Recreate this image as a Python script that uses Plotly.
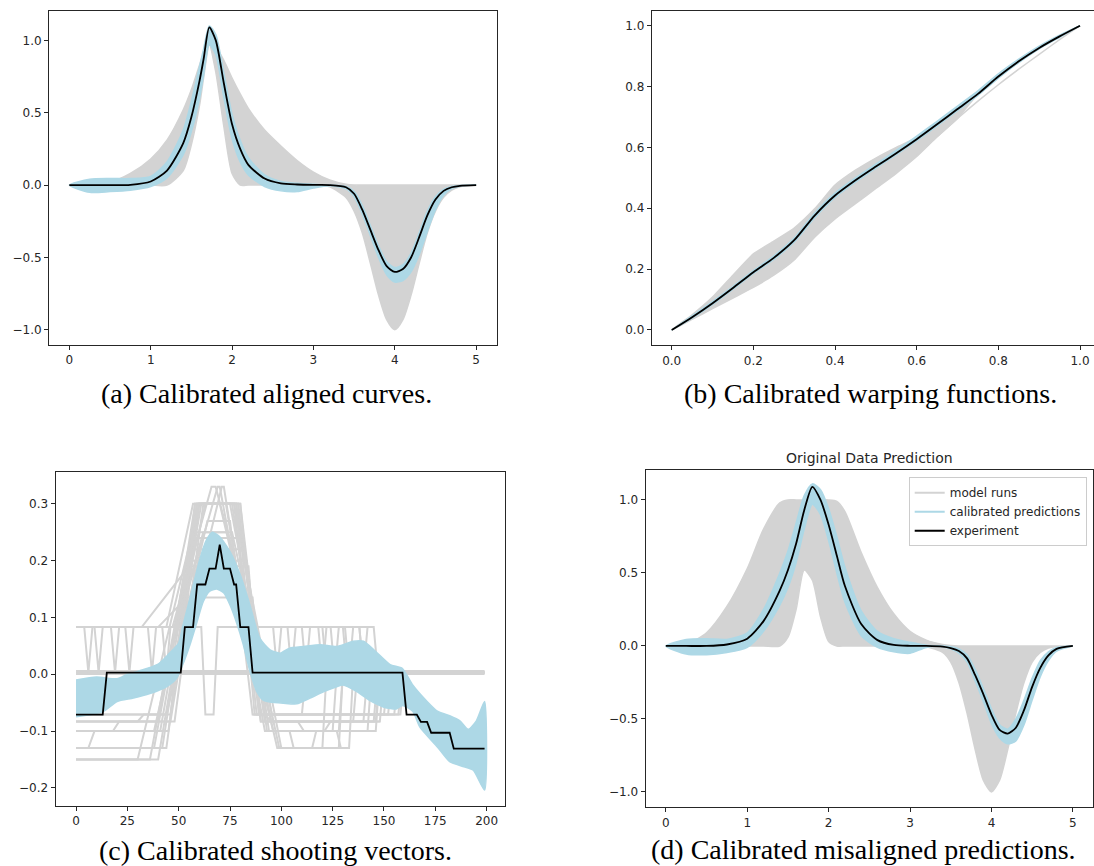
import plotly.graph_objects as go

GRAY = "#d3d3d3"
BLUE = "#add8e6"
BLACK = "#000000"
FRAME = "#262626"

# ---------------- (a) aligned curves ----------------
xa = [0, 0.25, 0.5, 0.75, 1.0, 1.2, 1.4, 1.5, 1.6, 1.65, 1.72, 1.8, 1.9, 2.0, 2.1, 2.2, 2.4, 2.6,
      2.8, 3.0, 3.2, 3.4, 3.5, 3.6, 3.7, 3.8, 3.9, 4.0, 4.1, 4.2, 4.3, 4.4, 4.5, 4.6, 4.7, 4.8, 5.0]
exp_a = [0, 0, 0, 0.002, 0.025, 0.10, 0.29, 0.47, 0.72, 0.87, 1.09, 1.0, 0.70, 0.42, 0.25, 0.14,
         0.045, 0.012, 0.004, 0.001, 0.0, -0.015, -0.06, -0.17, -0.31, -0.45, -0.56, -0.60, -0.58,
         -0.50, -0.36, -0.21, -0.10, -0.04, -0.015, -0.005, 0]
cal_a_hi = [0, 0.04, 0.045, 0.045, 0.06, 0.16, 0.38, 0.58, 0.82, 0.94, 1.10, 1.04, 0.77, 0.49, 0.31,
            0.19, 0.07, 0.025, 0.012, 0.005, 0.0, -0.01, -0.045, -0.14, -0.28, -0.42, -0.53, -0.57,
            -0.55, -0.47, -0.33, -0.18, -0.08, -0.03, -0.01, -0.003, 0]
cal_a_lo = [0, -0.05, -0.045, -0.035, -0.01, 0.05, 0.21, 0.37, 0.60, 0.76, 0.97, 0.90, 0.60, 0.32,
            0.16, 0.07, -0.01, -0.04, -0.045, -0.02, -0.005, -0.025, -0.08, -0.20, -0.35, -0.50,
            -0.62, -0.67, -0.66, -0.60, -0.48, -0.32, -0.17, -0.07, -0.025, -0.008, 0]
runs_a_hi = [0, 0.0, 0.02, 0.08, 0.18, 0.31, 0.52, 0.66, 0.83, 0.91, 1.0, 0.96, 0.86, 0.74, 0.63,
             0.53, 0.38, 0.27, 0.17, 0.09, 0.035, 0.005, 0, 0, 0, 0, 0, 0, 0, 0, 0, 0, 0, 0, 0, 0, 0]
runs_a_lo = [0, 0, 0, 0, 0, 0, 0.10, 0.28, 0.55, 0.74, 0.97, 0.78, 0.40, 0.08, 0.0, 0, 0, 0, 0, 0,
             -0.012, -0.085, -0.18, -0.33, -0.54, -0.76, -0.93, -1.0, -0.93, -0.76, -0.54, -0.33,
             -0.18, -0.085, -0.035, -0.012, 0]

# ---------------- (b) warping functions ----------------
xb = [0, 0.05, 0.1, 0.15, 0.2, 0.25, 0.3, 0.35, 0.4, 0.45, 0.5, 0.55, 0.6, 0.65, 0.7, 0.75, 0.8,
      0.85, 0.9, 0.95, 1.0]
exp_b = [0, 0.042, 0.088, 0.138, 0.19, 0.237, 0.295, 0.376, 0.442, 0.492, 0.537, 0.581, 0.627,
         0.676, 0.726, 0.776, 0.833, 0.883, 0.927, 0.965, 1.0]
cal_b_hi = [0, 0.046, 0.093, 0.143, 0.195, 0.243, 0.302, 0.384, 0.45, 0.5, 0.545, 0.59, 0.637,
            0.686, 0.736, 0.786, 0.842, 0.89, 0.933, 0.969, 1.0]
cal_b_lo = [0, 0.039, 0.084, 0.134, 0.186, 0.232, 0.289, 0.369, 0.436, 0.486, 0.532, 0.576, 0.622,
            0.671, 0.721, 0.771, 0.828, 0.879, 0.924, 0.962, 1.0]
runs_b_hi = [0, 0.05, 0.108, 0.18, 0.25, 0.292, 0.335, 0.398, 0.476, 0.525, 0.565, 0.600, 0.632,
             0.677, 0.726, 0.776, 0.833, 0.883, 0.927, 0.965, 1.0]
runs_b_lo = [0, 0.035, 0.07, 0.105, 0.14, 0.18, 0.23, 0.305, 0.365, 0.415, 0.465, 0.515, 0.57,
             0.635, 0.695, 0.776, 0.833, 0.883, 0.927, 0.965, 1.0]
run_b_out_x = [0.6, 0.65, 0.7, 0.75, 0.8, 0.85, 0.9, 0.95, 1.0]
run_b_out_y = [0.575, 0.635, 0.695, 0.752, 0.806, 0.857, 0.906, 0.954, 1.0]

# ---------------- (c) shooting vectors ----------------
exp_c_x = [0, 13, 15, 51, 53, 57, 59, 63, 65, 68, 70, 72, 75, 77, 78, 80, 84, 86, 159, 161, 166,
           168, 171, 173, 182, 184, 199]
exp_c_y = [-0.071, -0.071, 0.003, 0.003, 0.083, 0.083, 0.158, 0.158, 0.186, 0.186, 0.228, 0.186,
           0.186, 0.158, 0.158, 0.083, 0.083, 0.003, 0.003, -0.071, -0.071, -0.084, -0.084,
           -0.103, -0.103, -0.131, -0.131]
cal_c_hi_x = [0, 10, 20, 25, 30, 40, 45, 50, 52, 55.5, 60.4, 63.6, 66.4, 70, 75, 80, 84.7, 89.6,
              94.5, 99.4, 104, 111, 119, 127, 135, 140, 146, 153, 159, 164, 171, 176, 182, 187,
              191, 195, 199]
cal_c_hi_y = [-0.01, -0.005, -0.008, 0.0, 0.005, 0.018, 0.035, 0.055, 0.085, 0.134, 0.204, 0.237,
              0.25, 0.242, 0.216, 0.175, 0.122, 0.063, 0.043, 0.037, 0.046, 0.049, 0.052, 0.049,
              0.058, 0.058, 0.04, 0.017, 0.01, -0.019, -0.048, -0.065, -0.073, -0.082, -0.097,
              -0.082, -0.048]
cal_c_lo_x = [0, 13, 20, 28, 36, 44, 49, 52, 55.5, 59, 62, 65, 68.5, 72, 75, 78, 81.5, 84.7, 88,
              91, 94.5, 101, 107.5, 114, 120.5, 127, 130, 137, 143, 150, 156, 159, 164, 167.5,
              176, 182, 189, 193.5, 199]
cal_c_lo_y = [-0.075, -0.066, -0.048, -0.042, -0.034, -0.022, -0.007, 0.017, 0.052, 0.093, 0.128,
              0.146, 0.15, 0.143, 0.122, 0.093, 0.052, 0.005, -0.03, -0.045, -0.049, -0.051,
              -0.052, -0.042, -0.031, -0.022, -0.019, -0.031, -0.046, -0.058, -0.061, -0.055,
              -0.065, -0.093, -0.128, -0.154, -0.163, -0.169, -0.204]
# model runs: left level, start of rise, peak level, peak start/end, right level, end of fall, end of right level
run_left = [0.083, 0.083, 0.003, -0.071, -0.083, -0.10, -0.13, -0.15, 0.083, -0.083, -0.13, 0.003,
            -0.10, 0.083, -0.071, -0.15, 0.083, 0.003, -0.083, -0.13, -0.10, 0.083, -0.15, 0.003]
run_rise = [50, 47, 50, 44, 48, 41, 44, 40, 32, 46, 42, 47, 38, 40, 46, 36, 44, 43, 40, 38, 45,
            49, 30, 45]
run_peak = [0.30, 0.33, 0.30, 0.33, 0.30, 0.25, 0.30, 0.30, 0.19, 0.16, 0.22, 0.27, 0.30, 0.135,
            0.30, 0.24, 0.30, 0.33, 0.30, 0.30, 0.20, 0.25, 0.30, 0.30]
run_top0 = [59, 66, 60, 71, 62, 58, 60, 61, 55, 57, 57, 64, 63, 54, 58, 56, 57, 69, 59, 60, 56,
            62, 60, 58]
run_top1 = [79, 68, 77, 72, 78, 74, 80, 77, 84, 81, 82, 75, 73, 86, 76, 80, 78, 70, 79, 75, 83,
            76, 70, 80]
run_right = [0.083, 0.083, -0.071, -0.083, -0.10, -0.13, -0.071, -0.083, 0.003, 0.083, -0.10,
             -0.071, -0.071, 0.003, -0.083, -0.13, -0.071, -0.10, 0.083, -0.083, -0.071, -0.13,
             -0.10, -0.083]
run_fall = [84, 86, 88, 90, 94, 98, 92, 96, 88, 88, 93, 86, 90, 89, 92, 100, 87, 92, 86, 95, 89,
            99, 96, 90]
run_end = [145, 120, 157, 148, 146, 133, 150, 140, 199, 130, 125, 155, 110, 199, 145, 128, 152,
           142, 138, 135, 158, 120, 128, 146]
zig_x = [[0, 9, 11, 13, 24, 26, 28, 35, 37, 39, 50],
         [86, 96, 98, 100, 110, 112, 114, 124, 126, 128, 138, 140, 142, 145],
         [0, 6, 9, 18, 21, 30, 33, 44],
         [50, 56, 61, 63, 67, 69, 74, 80],
         [98, 104, 106, 115, 117, 127, 129, 133],
         [0, 4, 6, 8, 17, 19, 21, 42, 44, 46, 50],
         [88, 103, 105, 107, 118, 120, 122, 131, 133, 135, 145],
         [86, 92, 95, 108, 111, 121, 124, 148]]
zig_y = [[0.083, 0.083, 0.003, 0.083, 0.083, 0.003, 0.083, 0.083, 0.003, 0.083, 0.083],
         [0.083, 0.083, 0.003, 0.083, 0.083, 0.003, 0.083, 0.083, 0.003, 0.083, 0.083, 0.003,
          0.083, 0.083],
         [-0.13, -0.13, -0.10, -0.10, -0.083, -0.083, -0.071, -0.071],
         [0.083, 0.083, 0.083, -0.071, -0.071, 0.083, 0.083, 0.083],
         [-0.10, -0.10, -0.13, -0.13, -0.10, -0.10, -0.13, -0.13],
         [0.083, 0.083, 0.003, 0.083, 0.083, 0.003, 0.083, 0.083, 0.003, 0.083, 0.083],
         [0.083, 0.083, 0.003, 0.083, 0.083, 0.003, 0.083, 0.083, 0.003, 0.083, 0.083],
         [-0.071, -0.071, -0.083, -0.083, -0.10, -0.10, -0.083, -0.083]]
zero_x = [0, 199]
zero_y = [0.003, 0.003]

# ---------------- (d) misaligned predictions ----------------
xd = [0, 0.25, 0.5, 0.75, 1.0, 1.2, 1.4, 1.5, 1.6, 1.7, 1.8, 1.9, 2.0, 2.1, 2.2, 2.4, 2.6, 2.8, 3.0,
      3.2, 3.4, 3.5, 3.6, 3.7, 3.8, 3.9, 4.0, 4.1, 4.2, 4.3, 4.4, 4.5, 4.6, 4.7, 4.8, 5.0]
exp_d = [0, 0, 0, 0.01, 0.05, 0.17, 0.38, 0.52, 0.70, 0.93, 1.09, 1.0, 0.83, 0.62, 0.41, 0.15, 0.04,
         0.007, 0.001, 0, -0.005, -0.015, -0.035, -0.085, -0.2, -0.33, -0.47, -0.575, -0.60, -0.56,
         -0.44, -0.28, -0.15, -0.065, -0.02, 0]
cal_d_hi = [0, 0.045, 0.05, 0.045, 0.09, 0.25, 0.50, 0.65, 0.84, 1.03, 1.11, 1.07, 0.94, 0.75, 0.54,
            0.24, 0.10, 0.05, 0.025, 0.005, 0, -0.005, -0.02, -0.06, -0.16, -0.29, -0.43, -0.54,
            -0.57, -0.50, -0.37, -0.22, -0.10, -0.04, -0.01, 0]
cal_d_lo = [0, -0.055, -0.06, -0.045, -0.01, 0.10, 0.28, 0.40, 0.57, 0.80, 0.97, 0.90, 0.72, 0.50,
            0.30, 0.07, -0.01, -0.04, -0.05, -0.01, -0.005, -0.02, -0.05, -0.11, -0.24, -0.38,
            -0.53, -0.63, -0.67, -0.65, -0.54, -0.37, -0.21, -0.10, -0.035, 0]
runs_d_hi = [0, 0.01, 0.09, 0.27, 0.53, 0.80, 0.98, 1.0, 1.0, 1.0, 1.0, 1.0, 1.0, 0.99, 0.92, 0.64,
             0.40, 0.22, 0.10, 0.04, 0.01, 0.003, 0, 0, 0, 0, 0, 0, 0, 0, 0, 0, 0, 0, 0, 0]
runs_d_lo = [0, 0, 0, 0, 0, 0, 0, 0.06, 0.25, 0.52, 0.45, 0.20, 0.03, 0, 0, 0, 0, 0, 0, -0.005,
             -0.044, -0.11, -0.25, -0.46, -0.71, -0.92, -1.0, -0.92, -0.71, -0.46, -0.25, -0.11,
             -0.044, -0.014, -0.004, 0]

fig = go.Figure()


def band(xh, hi, xl, lo, color, ax, ay, smooth=0.7):
    fig.add_trace(go.Scatter(
        x=list(xh) + list(xl)[::-1], y=list(hi) + list(lo)[::-1],
        mode="lines", fill="toself", fillcolor=color,
        line=dict(color=color, width=1.5, shape="spline", smoothing=smooth),
        hoverinfo="skip", showlegend=False, xaxis=ax, yaxis=ay))


def line(x, y, color, width, ax, ay, shape="spline"):
    fig.add_trace(go.Scatter(
        x=x, y=y, mode="lines", line=dict(color=color, width=width, shape=shape, smoothing=0.7),
        hoverinfo="skip", showlegend=False, xaxis=ax, yaxis=ay))


# (a)
band(xa, runs_a_hi, xa, runs_a_lo, GRAY, "x", "y")
band(xa, cal_a_hi, xa, cal_a_lo, BLUE, "x", "y")
line(xa, exp_a, BLACK, 1.8, "x", "y")

# (b)
band(xb, runs_b_hi, xb, runs_b_lo, GRAY, "x2", "y2", 0.5)
line(run_b_out_x, run_b_out_y, GRAY, 1.5, "x2", "y2")
band(xb, cal_b_hi, xb, cal_b_lo, BLUE, "x2", "y2", 0.5)
line(xb, exp_b, BLACK, 1.8, "x2", "y2")

# (c)
line(zero_x, zero_y, GRAY, 5, "x3", "y3", "linear")
for i in range(len(run_left)):
    xs = [0, run_rise[i], run_top0[i], run_top1[i], run_fall[i], run_end[i]]
    ys = [run_left[i], run_left[i], run_peak[i], run_peak[i], run_right[i], run_right[i]]
    if run_end[i] < 199:
        xs += [run_end[i] + 2, 199]
        ys += [0.003, 0.003]
    line(xs, ys, GRAY, 2, "x3", "y3", "linear")
for zx, zy in zip(zig_x, zig_y):
    line(zx, zy, GRAY, 2, "x3", "y3", "linear")
band(cal_c_hi_x, cal_c_hi_y, cal_c_lo_x, cal_c_lo_y, BLUE, "x3", "y3", 0.6)
line(exp_c_x, exp_c_y, BLACK, 1.8, "x3", "y3", "linear")

# (d)
band(xd, runs_d_hi, xd, runs_d_lo, GRAY, "x4", "y4")
band(xd, cal_d_hi, xd, cal_d_lo, BLUE, "x4", "y4")
line(xd, exp_d, BLACK, 1.8, "x4", "y4")

legend_names = ["model runs", "calibrated predictions", "experiment"]
legend_colors = [GRAY, BLUE, BLACK]
for name, col in zip(legend_names, legend_colors):
    fig.add_trace(go.Scatter(x=[None], y=[None], mode="lines", name=name,
                             line=dict(color=col, width=2), xaxis="x4", yaxis="y4"))

W, H = 1094, 866
tickfont = dict(family="DejaVu Sans", size=12, color="#262626")
common = dict(showline=True, mirror=True, linecolor=FRAME, linewidth=1, ticks="outside",
              ticklen=4, tickwidth=1, tickcolor=FRAME, showgrid=False, zeroline=False,
              tickfont=tickfont)


def px_dom(a, b, total, flip=False):
    if flip:
        return [1 - b / total, 1 - a / total]
    return [a / total, b / total]


fig.update_layout(
    width=W, height=H, margin=dict(l=0, r=0, t=0, b=0),
    paper_bgcolor="white", plot_bgcolor="white",
    xaxis=dict(domain=px_dom(49, 496.5, W), range=[-0.25, 5.25], tickvals=[0, 1, 2, 3, 4, 5],
               anchor="y", **common),
    yaxis=dict(domain=px_dom(10.7, 345, H, True), range=[-1.105, 1.205],
               tickvals=[-1, -0.5, 0, 0.5, 1], tickformat=".1f", anchor="x", **common),
    xaxis2=dict(domain=[651.7 / W, 1.0], range=[-0.049, 1.0343],
                tickvals=[0, 0.2, 0.4, 0.6, 0.8, 1.0], tickformat=".1f", anchor="y2", **common),
    yaxis2=dict(domain=px_dom(10.5, 345.2, H, True), range=[-0.05, 1.05],
                tickvals=[0, 0.2, 0.4, 0.6, 0.8, 1.0], tickformat=".1f", anchor="x2", **common),
    xaxis3=dict(domain=px_dom(55.6, 505, W), range=[-9.95, 208.95],
                tickvals=[0, 25, 50, 75, 100, 125, 150, 175, 200], anchor="y3", **common),
    yaxis3=dict(domain=px_dom(471.5, 806, H, True), range=[-0.232, 0.357],
                tickvals=[-0.2, -0.1, 0, 0.1, 0.2, 0.3], tickformat=".1f", anchor="x3", **common),
    xaxis4=dict(domain=px_dom(645.5, 1093.2, W), range=[-0.25, 5.25],
                tickvals=[0, 1, 2, 3, 4, 5], anchor="y4", **common),
    yaxis4=dict(domain=px_dom(470, 807.3, H, True), range=[-1.105, 1.205],
                tickvals=[-1, -0.5, 0, 0.5, 1], tickformat=".1f", anchor="x4", **common),
    showlegend=True,
    legend=dict(x=1086.7 / W, y=1 - 477.3 / H, xanchor="right", yanchor="top",
                bgcolor="rgba(255,255,255,0.85)", bordercolor="#cccccc", borderwidth=1,
                font=dict(family="DejaVu Sans", size=12, color="#262626"),
                itemwidth=30, tracegroupgap=0),
)

cap_font = dict(family="Liberation Serif", size=28, color="black")
captions = [("(a) Calibrated aligned curves.", 266, 393),
            ("(b) Calibrated warping functions.", 870, 393),
            ("(c) Calibrated shooting vectors.", 275, 850),
            ("(d) Calibrated misaligned predictions.", 863, 849)]
for text, cx, cy in captions:
    fig.add_annotation(text=text, x=cx / W, y=1 - cy / H, xref="paper", yref="paper",
                       xanchor="center", yanchor="middle", showarrow=False, font=cap_font)
fig.add_annotation(text="Original Data Prediction", x=869 / W, y=1 - 458 / H, xref="paper",
                   yref="paper", xanchor="center", yanchor="middle", showarrow=False,
                   font=dict(family="DejaVu Sans", size=14, color="#262626"))

fig.write_html("out.html")
